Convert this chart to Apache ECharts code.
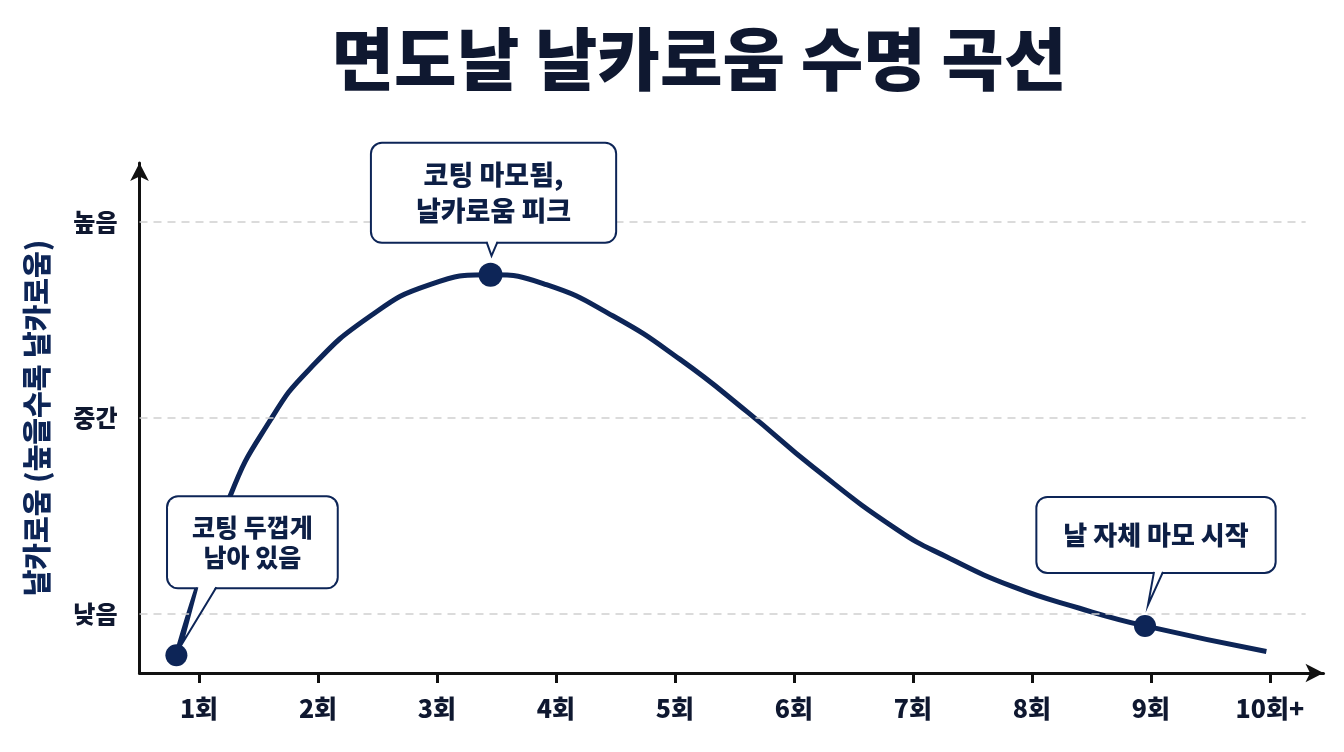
<!DOCTYPE html>
<html>
<head>
<meta charset="utf-8">
<script src="https://cdn.jsdelivr.net/npm/echarts@6/dist/echarts.min.js"></script>
<style>
  html, body { margin: 0; padding: 0; background: #fff; }
  #main { width: 1344px; height: 752px; }
</style>
</head>
<body>
<div id="main"></div>
<script>
const xTicks = [1, 2, 3, 4, 5, 6, 7, 8, 9, 10];
const xLabels = ['1회', '2회', '3회', '4회', '5회', '6회', '7회', '8회', '9회', '10회+'];
const yTicks = [1, 2, 3];
const yLabels = ['낮음', '중간', '높음'];

// sharpness curve (x = use count, y = 1 low .. 3 high)
const curveX = [0.81, 1.26, 1.60, 1.93, 2.44, 2.94, 3.45, 3.92, 4.48, 5.04, 5.61, 6.16, 6.87, 7.29, 7.84, 8.40, 8.95, 9.97];
const curveY = [0.79, 1.60, 1.99, 2.25, 2.52, 2.68, 2.73, 2.68, 2.52, 2.30, 2.03, 1.75, 1.43, 1.29, 1.14, 1.03, 0.94, 0.81];

const markerX = [0.81, 3.45, 8.95];
const markerY = [0.79, 2.73, 0.94];
const markerNotes = ['코팅 두껍게\n남아 있음', '코팅 마모됨,\n날카로움 피크', '날 자체 마모 시작'];

const NAVY = '#0d2557';
const INK = '#0f1830';
const FONT = 'Noto Sans CJK KR';

const myChart = echarts.init(document.getElementById('main'));

// label box placement and tail shape per callout (pixel offsets from marker)
const calloutStyle = [
  { size: 22, font: 25, pos: [87, -57], padding: [15, 24], lineHeight: 30,
    tail: [[21, -68], [40, -68], [6, -12]] },
  { size: 24, font: 27, pos: [15, -21], padding: [13, 44], lineHeight: 36,
    tail: [[-4, -33], [7, -33], [1, -19]] },
  { size: 22, font: 26, pos: [22, -43], padding: [22, 26], lineHeight: 30,
    tail: [[9, -54], [18, -54], [3, -21]] },
];

const markerData = markerX.map((x, i) => ({
  value: [x, markerY[i]],
  symbolSize: calloutStyle[i].size,
  label: {
    show: true,
    formatter: markerNotes[i],
    position: calloutStyle[i].pos,
    align: 'center',
    verticalAlign: 'bottom',
    fontSize: calloutStyle[i].font,
    padding: calloutStyle[i].padding,
    lineHeight: calloutStyle[i].lineHeight,
  },
}));

const option = {
  backgroundColor: '#ffffff',
  title: {
    text: '면도날 날카로움 수명 곡선',
    left: 694,
    textAlign: 'center',
    top: 20,
    textStyle: {
      fontFamily: FONT,
      fontSize: 68,
      fontWeight: 900,
      color: INK,
    },
  },
  grid: {
    left: 139.5,
    right: 20.5,
    top: 163,
    bottom: 79,
  },
  xAxis: {
    type: 'value',
    min: 0.5,
    max: 10.45,
    axisLine: {
      show: true,
      symbol: ['none', 'arrow'],
      symbolSize: [14, 18],
      lineStyle: { color: '#111111', width: 3 },
    },
    axisTick: {
      show: true,
      customValues: xTicks,
      length: 10,
      lineStyle: { color: '#111111', width: 3 },
    },
    axisLabel: {
      customValues: xTicks,
      formatter: (v) => xLabels[xTicks.indexOf(v)],
      margin: 23,
      fontFamily: FONT,
      fontSize: 25,
      fontWeight: 900,
      color: INK,
    },
    splitLine: { show: false },
  },
  yAxis: {
    type: 'value',
    min: 0.7,
    max: 3.3,
    name: '날카로움 (높을수록 날카로움)',
    nameLocation: 'middle',
    nameGap: 88,
    nameTextStyle: {
      fontFamily: FONT,
      fontSize: 29,
      fontWeight: 900,
      color: NAVY,
    },
    axisLine: {
      show: true,
      symbol: ['none', 'arrow'],
      symbolSize: [14, 18],
      lineStyle: { color: '#111111', width: 3 },
    },
    axisTick: { show: false },
    axisLabel: {
      customValues: yTicks,
      formatter: (v) => yLabels[yTicks.indexOf(v)],
      margin: 22,
      fontFamily: FONT,
      fontSize: 24,
      fontWeight: 900,
      color: INK,
    },
    splitLine: { show: false },
  },
  series: [
    {
      type: 'line',
      data: curveX.map((x, i) => [x, curveY[i]]),
      smooth: 0.5,
      showSymbol: false,
      lineStyle: { color: NAVY, width: 5 },
      z: 3,
      markLine: {
        silent: true,
        symbol: 'none',
        label: { show: false },
        lineStyle: { color: '#cfcfcf', width: 1.5, type: [8, 6] },
        data: yTicks.map((v) => [{ coord: [0.5, v] }, { coord: [10.3, v] }]),
      },
    },
    {
      type: 'scatter',
      data: markerData,
      itemStyle: { color: NAVY, opacity: 1 },
      z: 5,
      label: {
        fontFamily: FONT,
        fontWeight: 900,
        color: '#0d1f45',
        backgroundColor: '#ffffff',
        borderColor: NAVY,
        borderWidth: 2,
        borderRadius: 10,
      },
    },
  ],
};

myChart.setOption(option);

// speech-bubble tails, placed from the markers' pixel positions
const tails = [];
markerX.forEach((x, i) => {
  const p = myChart.convertToPixel({ seriesIndex: 1 }, [x, markerY[i]]);
  const t = calloutStyle[i].tail;
  const pts = t.map((o) => [p[0] + o[0], p[1] + o[1]]);
  tails.push({
    type: 'polygon',
    z: 200,
    shape: { points: [[pts[0][0], pts[0][1] - 2], [pts[1][0], pts[1][1] - 2], pts[2]] },
    style: { fill: '#ffffff' },
  });
  tails.push({
    type: 'polyline',
    z: 201,
    shape: { points: [pts[0], pts[2], pts[1]] },
    style: { stroke: NAVY, lineWidth: 2, fill: null },
  });
});
myChart.setOption({ graphic: tails });
</script>
</body>
</html>
